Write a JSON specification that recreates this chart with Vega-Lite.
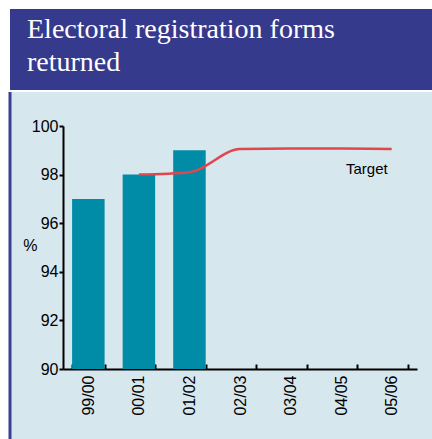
{
  "$schema": "https://vega.github.io/schema/vega-lite/v6.json",
  "background": "white",
  "padding": {"left": 0, "top": 9, "right": 0, "bottom": 0},
  "spacing": 0,
  "config": {"font": "Liberation Sans"},
  "vconcat": [
    {
      "width": 422,
      "height": 81,
      "view": {"fill": "#363a8c", "stroke": null},
      "title": {
        "text": ["Electoral registration forms", "returned"],
        "orient": "top",
        "anchor": "start",
        "frame": "group",
        "color": "white",
        "font": "Liberation Serif",
        "fontSize": 28,
        "fontWeight": "normal",
        "lineHeight": 33,
        "offset": -68,
        "dx": 17
      },
      "data": {"values": [{"panel": "title"}]},
      "mark": {"type": "rect", "color": "#363a8c"}
    },
    {
      "width": 422,
      "height": 349,
      "view": {"fill": "#d7e7ee", "stroke": "#3b3f95", "strokeWidth": 3, "strokeDash": [0, 1193, 349, 0]},
      "data": {
        "values": [
          {"year": "99/00", "returned": 97, "target": null},
          {"year": "00/01", "returned": 98, "target": 98.0},
          {"year": "01/02", "returned": 99, "target": 98.1},
          {"year": "02/03", "returned": null, "target": 99.05},
          {"year": "03/04", "returned": null, "target": 99.07},
          {"year": "04/05", "returned": null, "target": 99.07},
          {"year": "05/06", "returned": null, "target": 99.05}
        ]
      },
      "encoding": {
        "x": {
          "field": "year",
          "type": "ordinal",
          "sort": null,
          "scale": {"range": [53, 407], "paddingInner": 0.357, "paddingOuter": 0.18},
          "axis": {
            "offset": -72,
            "title": null,
            "labelAngle": 270,
            "tickBand": "extent",
            "tickSize": -5,
            "tickWidth": 2,
            "tickColor": "black",
            "domainWidth": 2,
            "domainColor": "black",
            "labelFontSize": 16,
            "labelColor": "black",
            "labelPadding": 11
          }
        }
      },
      "layer": [
        {
          "mark": {"type": "bar", "color": "#008ba7"},
          "encoding": {
            "y": {
              "field": "returned",
              "type": "quantitative",
              "scale": {"domain": [90, 100], "range": [277, 34], "zero": false},
              "axis": {
                "offset": -53,
                "values": [90, 92, 94, 96, 98, 100],
                "title": "%",
                "titleAngle": 0,
                "titleAlign": "right",
                "titleBaseline": "middle",
                "titleX": -26,
                "titleY": 153,
                "titleFontSize": 16,
                "titleFontWeight": "normal",
                "titleColor": "black",
                "grid": false,
                "domainColor": "black",
                "domainWidth": 2,
                "tickColor": "black",
                "tickWidth": 2,
                "tickSize": 4,
                "labelFontSize": 16,
                "labelColor": "black",
                "labelPadding": 1
              }
            },
            "y2": {"datum": 90}
          }
        },
        {
          "mark": {"type": "line", "color": "#e0474c", "strokeWidth": 2.5, "interpolate": "monotone"},
          "encoding": {"y": {"field": "target", "type": "quantitative"}}
        },
        {
          "transform": [{"filter": "datum.year === '05/06'"}],
          "mark": {"type": "text", "align": "right", "dx": -4, "dy": 20, "fontSize": 15, "color": "black"},
          "encoding": {
            "y": {"field": "target", "type": "quantitative"},
            "text": {"value": "Target"}
          }
        }
      ]
    }
  ]
}
